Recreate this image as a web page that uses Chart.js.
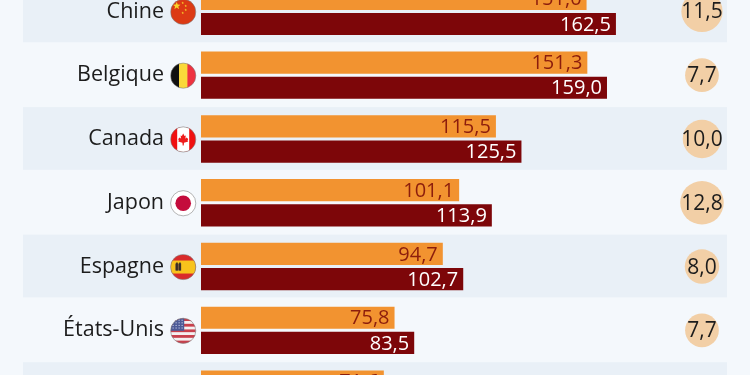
<!DOCTYPE html>
<html lang="fr">
<head>
    <meta charset="UTF-8">
    <title>Chiffres par pays</title>
    <script src="https://cdn.jsdelivr.net/npm/chart.js"></script>
    <style>
        html, body { margin: 0; padding: 0; width: 750px; height: 375px; overflow: hidden; background: #f4f8fc; }
        #wrap { position: relative; width: 750px; height: 375px; overflow: hidden; }
        canvas { position: absolute; left: 0; top: -21px; }
    </style>
</head>
<body>
    <div id="wrap"><canvas id="chart" width="750" height="447"></canvas></div>

    <script>
        // the crop ends inside the seventh row, only its first bar shows
        const countries = ["Chine", "Belgique", "Canada", "Japon", "Espagne", "États-Unis", ""];
        const firstValues = [151.0, 151.3, 115.5, 101.1, 94.7, 75.8, 71.6];
        const secondValues = [162.5, 159.0, 125.5, 113.9, 102.7, 83.5, null];
        const growth = [11.5, 7.7, 10.0, 12.8, 8.0, 7.7];

        const ORANGE = "#f29330";
        const DARK = "#7d0609";
        const FONT = "'Open Sans', sans-serif";
        const circleColumn = 196.2; // x axis value where the circles sit

        const fmt = v => v.toFixed(1).replace(".", ",");

        function stripes(ctx, x, y, r, colors) {
            const w = 2 * r / colors.length;
            colors.forEach((c, i) => {
                ctx.fillStyle = c;
                ctx.fillRect(x - r + i * w, y - r, w + 0.5, 2 * r);
            });
        }

        function star(ctx, x, y, r) {
            ctx.beginPath();
            for (let i = 0; i < 10; i++) {
                const a = -Math.PI / 2 + i * Math.PI / 5;
                const d = i % 2 ? r * 0.42 : r;
                ctx.lineTo(x + Math.cos(a) * d, y + Math.sin(a) * d);
            }
            ctx.closePath();
            ctx.fill();
        }

        const flags = {
            "Chine": (ctx, x, y, r) => {
                ctx.fillStyle = "#dc3a14";
                ctx.fillRect(x - r, y - r, 2 * r, 2 * r);
                ctx.fillStyle = "#f8d42a";
                star(ctx, x - 6.5, y - 6, 4);
                [[-0.5, -9], [2.5, -6], [2.5, -2], [-0.5, 1]].forEach(p => star(ctx, x + p[0], y + p[1], 1.4));
            },
            "Belgique": (ctx, x, y, r) => stripes(ctx, x, y, r, ["#111111", "#fad93a", "#ee3240"]),
            "Canada": (ctx, x, y, r) => {
                ctx.fillStyle = "#f01010";
                ctx.fillRect(x - r, y - r, 2 * r, 2 * r);
                ctx.fillStyle = "#ffffff";
                ctx.fillRect(x - 6, y - r, 12, 2 * r);
                ctx.fillStyle = "#ee1c1c";
                ctx.beginPath();
                [[0, -6], [1.3, -3.4], [2.6, -4], [2.1, -0.8], [3.4, -2], [5, -0.4], [4.4, 1], [5, 2],
                 [0.8, 3.4], [0.5, 6], [-0.5, 6], [-0.8, 3.4], [-5, 2], [-4.4, 1], [-5, -0.4], [-3.4, -2],
                 [-2.1, -0.8], [-2.6, -4], [-1.3, -3.4]].forEach(p => ctx.lineTo(x + p[0], y + p[1]));
                ctx.closePath();
                ctx.fill();
            },
            "Japon": (ctx, x, y, r) => {
                ctx.fillStyle = "#ffffff";
                ctx.fillRect(x - r, y - r, 2 * r, 2 * r);
                ctx.fillStyle = "#c40c3c";
                ctx.beginPath();
                ctx.arc(x, y, 7.8, 0, Math.PI * 2);
                ctx.fill();
            },
            "Espagne": (ctx, x, y, r) => {
                ctx.fillStyle = "#d92b2b";
                ctx.fillRect(x - r, y - r, 2 * r, 2 * r);
                ctx.fillStyle = "#f8c31c";
                ctx.fillRect(x - r, y - 6.5, 2 * r, 13);
                ctx.fillStyle = "#7a5a3a";
                ctx.fillRect(x - 8, y - 3.5, 6, 7);
                ctx.fillStyle = "#2a2320";
                ctx.fillRect(x - 7, y - 4.5, 1.5, 8);
                ctx.fillRect(x - 4, y - 4.5, 1.5, 8);
            },
            "États-Unis": (ctx, x, y, r) => {
                const h = 2 * r / 9;
                for (let i = 0; i < 9; i++) {
                    ctx.fillStyle = i % 2 ? "#f4f0f0" : "#c8404c";
                    ctx.fillRect(x - r, y - r + i * h, 2 * r, h + 0.5);
                }
                ctx.fillStyle = "#4d5a96";
                ctx.fillRect(x - r, y - r, r + 1, r);
                ctx.fillStyle = "#dfe3f2";
                for (let i = 0; i < 4; i++) {
                    for (let j = 0; j < 4; j++) {
                        ctx.fillRect(x - r + 2 + j * 3, y - r + 1.5 + i * 2.6, 1, 1);
                    }
                }
            }
        };

        const rowBands = {
            id: "rowBands",
            beforeDraw(chart) {
                const { ctx, scales: { y } } = chart;
                const pitch = y.getPixelForValue(1) - y.getPixelForValue(0);
                ctx.save();
                ctx.fillStyle = "#e9f0f7";
                countries.forEach((_, i) => {
                    if (i % 2) return;
                    ctx.fillRect(23, y.getPixelForValue(i) - pitch / 2, 704, pitch - 1);
                });
                ctx.restore();
            }
        };

        // flags, plus the value texts that the bars and circles carry
        const annotations = {
            id: "annotations",
            afterDatasetsDraw(chart) {
                const { ctx, scales: { y } } = chart;
                ctx.save();
                countries.forEach((name, i) => {
                    if (!flags[name]) return;
                    const cx = 183.2, cy = y.getPixelForValue(i) + 0.5, r = 12.6;
                    ctx.save();
                    ctx.beginPath();
                    ctx.arc(cx, cy, r, 0, Math.PI * 2);
                    ctx.clip();
                    flags[name](ctx, cx, cy, r);
                    ctx.restore();
                    ctx.strokeStyle = "rgba(120,120,120,0.55)";
                    ctx.lineWidth = 1;
                    ctx.beginPath();
                    ctx.arc(cx, cy, r, 0, Math.PI * 2);
                    ctx.stroke();
                });

                ctx.textBaseline = "middle";
                ctx.textAlign = "right";
                ctx.font = "20px " + FONT;
                [[0, "#8c1d0c", firstValues], [1, "#ffffff", secondValues]].forEach(([ds, color, values]) => {
                    ctx.fillStyle = color;
                    chart.getDatasetMeta(ds).data.forEach((bar, i) => {
                        if (values[i] == null) return;
                        ctx.fillText(fmt(values[i]), bar.x - 5, bar.y + 1);
                    });
                });

                ctx.textAlign = "center";
                ctx.fillStyle = "#1c1c1c";
                ctx.font = "21px " + FONT;
                chart.getDatasetMeta(2).data.forEach((pt, i) => {
                    ctx.fillText(fmt(growth[i]), pt.x, pt.y + 1);
                });
                ctx.restore();
            }
        };

        new Chart(document.getElementById("chart"), {
            data: {
                labels: countries,
                datasets: [
                    { type: "bar", data: firstValues, backgroundColor: ORANGE, categoryPercentage: 0.79, barPercentage: 0.88 },
                    { type: "bar", data: secondValues, backgroundColor: DARK, categoryPercentage: 0.79, barPercentage: 0.88 },
                    {
                        type: "bubble",
                        indexAxis: "x",
                        data: growth.map((g, i) => ({ x: circleColumn, y: countries[i], r: Math.sqrt(g * 37) })),
                        backgroundColor: "#f2cfa6",
                        borderWidth: 0
                    }
                ]
            },
            options: {
                indexAxis: "y",
                responsive: false,
                animation: false,
                layout: { autoPadding: false, padding: { top: 0.5, right: 23 } },
                plugins: { legend: { display: false }, tooltip: { enabled: false } },
                scales: {
                    x: { type: "linear", min: 0, max: 206, display: false },
                    y: {
                        type: "category",
                        border: { display: false },
                        grid: { display: false, drawTicks: false },
                        ticks: { padding: 37, color: "#1c1c1c", font: { family: FONT, size: 21.5 }, autoSkip: false },
                        afterFit: scale => {
                            scale.width = 201;
                            // tick padding would otherwise eat into the rows
                            scale.paddingTop = 0;
                            scale.paddingBottom = 0;
                        }
                    }
                }
            },
            plugins: [rowBands, annotations]
        });
    </script>
</body>
</html>
